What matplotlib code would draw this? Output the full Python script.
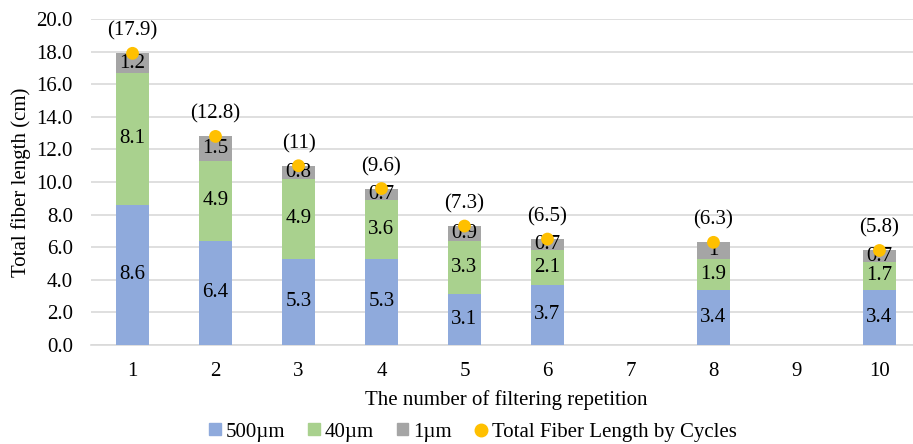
import numpy as np
import matplotlib.pyplot as plt
from matplotlib.lines import Line2D
from matplotlib.patches import Patch

cycles = ["1", "2", "3", "4", "5", "6", "7", "8", "9", "10"]
len_500 = [8.6, 6.4, 5.3, 5.3, 3.1, 3.7, np.nan, 3.4, np.nan, 3.4]
len_40 = [8.1, 4.9, 4.9, 3.6, 3.3, 2.1, np.nan, 1.9, np.nan, 1.7]
len_1 = [1.2, 1.5, 0.8, 0.7, 0.9, 0.7, np.nan, 1.0, np.nan, 0.7]
totals = [17.9, 12.8, 11.0, 9.6, 7.3, 6.5, np.nan, 6.3, np.nan, 5.8]

plt.rcParams['font.family'] = ['Liberation Serif', 'DejaVu Serif']

c500 = "#8FAADC"
c40 = "#A9D18E"
c1 = "#A5A5A5"
ctot = "#FFC000"

fig = plt.figure(figsize=(9.13, 4.44), dpi=100)
ax = fig.add_axes([0.0997, 0.223, 0.909, 0.734])

x = np.arange(len(cycles))
a = np.array(len_500)
b = np.array(len_40)
c = np.array(len_1)
w = 0.40

ax.bar(x, a, w, color=c500, zorder=2)
ax.bar(x, b, w, bottom=a, color=c40, zorder=2)
ax.bar(x, c, w, bottom=a + b, color=c1, zorder=2)
ax.scatter(x, totals, s=85, color=ctot, zorder=4, edgecolor="none")

fs = 15
for i in range(len(cycles)):
    if np.isnan(totals[i]):
        continue
    ax.text(x[i], a[i] / 2, f"{a[i]:g}", ha="center", va="center", fontsize=fs, zorder=3)
    ax.text(x[i], a[i] + b[i] / 2, f"{b[i]:g}", ha="center", va="center", fontsize=fs, zorder=3)
    ax.text(x[i], a[i] + b[i] + c[i] / 2, f"{c[i]:g}", ha="center", va="center", fontsize=fs, zorder=3)
    ax.annotate(f"({totals[i]:g})", (x[i], totals[i]), xytext=(0, 9), textcoords="offset points",
                ha="center", va="bottom", fontsize=fs)

ax.set_xlim(-0.5, len(cycles) - 0.5)
ax.set_ylim(0, 20)
ax.set_yticks(np.arange(0, 20.1, 2))
ax.set_yticklabels([f"{v:.1f}" for v in np.arange(0, 20.1, 2)])
ax.set_xticks(x)
ax.set_xticklabels(cycles)
ax.tick_params(axis="both", length=0, labelsize=fs)
ax.tick_params(axis="x", pad=12)
ax.tick_params(axis="y", pad=13)
ax.grid(axis="y", color="#D9D9D9", linewidth=1.2, zorder=0)
for s in ["top", "right", "left"]:
    ax.spines[s].set_visible(False)
ax.spines["bottom"].set_color("#D9D9D9")
ax.spines["bottom"].set_linewidth(1.2)
ax.spines["bottom"].set_zorder(1)

ax.set_xlabel("The number of filtering repetition", fontsize=fs, labelpad=7)
ax.set_ylabel("Total fiber length (cm)", fontsize=fs, labelpad=4)

handles = [
    Patch(color=c500, label="500µm"),
    Patch(color=c40, label="40µm"),
    Patch(color=c1, label="1µm"),
    Line2D([], [], marker="o", color=ctot, linestyle="none", markersize=9, label="Total Fiber Length by Cycles"),
]
fig.legend(handles=handles, loc="center", bbox_to_anchor=(0.518, 0.027), ncol=4, frameon=False,
           fontsize=fs, handlelength=0.55, handleheight=0.55, handletextpad=0.25, columnspacing=1.1)

fig.savefig("out.png", dpi=100)
